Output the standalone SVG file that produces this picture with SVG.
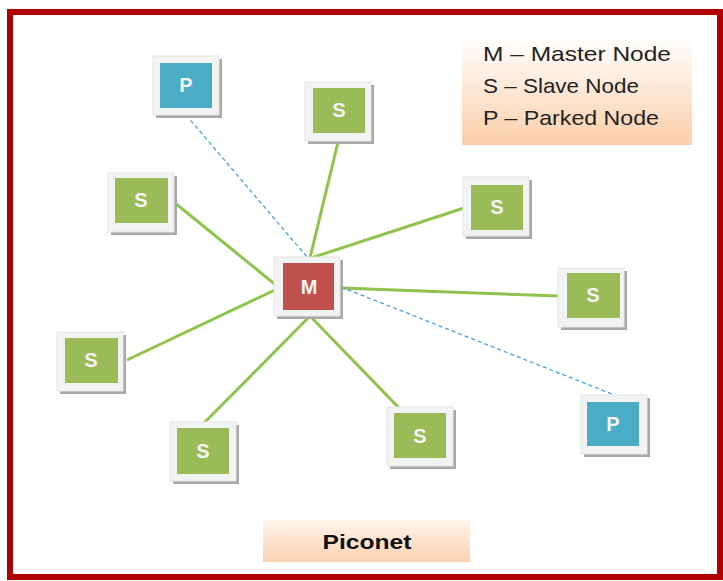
<svg xmlns="http://www.w3.org/2000/svg" width="723" height="581" viewBox="0 0 723 581">
<defs>
<linearGradient id="peach" x1="0" y1="0" x2="0" y2="1">
<stop offset="0" stop-color="#ffffff"/>
<stop offset="1" stop-color="#fbcfaa"/>
</linearGradient>
<linearGradient id="peach2" x1="0" y1="0" x2="0" y2="1">
<stop offset="0" stop-color="#fff4ec"/>
<stop offset="1" stop-color="#fbd2b0"/>
</linearGradient>
</defs>
<style>
.shadow{fill:#a8a8a8}
.outer{fill:#f3f3f3;stroke:#e4e4e4;stroke-width:1}
.s{fill:#9bbb59}
.p{fill:#4bacc6}
.m{fill:#c0504d}
.lbl{font-family:"Liberation Sans",Arial,sans-serif;font-weight:bold;font-size:20px;fill:#f4f4f4;text-anchor:middle}
.link{stroke:#8fc34c;stroke-width:3;fill:none}
.dash{stroke:#4a9fd6;stroke-width:1.3;stroke-dasharray:4 3;fill:none}
.leg{font-family:"Liberation Sans",Arial,sans-serif;font-size:21px;fill:#222}
</style>
<rect x="0" y="0" width="723" height="581" fill="#ffffff"/>
<rect x="10" y="12" width="710" height="565" fill="#ffffff" stroke="#b00000" stroke-width="6"/>

<g id="legend">
<rect x="462" y="37" width="230" height="108" fill="url(#peach)"/>
<text class="leg" x="483" y="61" textLength="188" lengthAdjust="spacingAndGlyphs">M – Master Node</text>
<text class="leg" x="483" y="93" textLength="156" lengthAdjust="spacingAndGlyphs">S – Slave Node</text>
<text class="leg" x="483" y="125" textLength="176" lengthAdjust="spacingAndGlyphs">P – Parked Node</text>
</g>

<g id="title">
<rect x="263" y="520" width="207" height="42" fill="url(#peach2)"/>
<text x="367" y="549" font-family="'Liberation Sans',Arial,sans-serif" font-weight="bold" font-size="21" fill="#111" text-anchor="middle" textLength="89" lengthAdjust="spacingAndGlyphs">Piconet</text>
</g>

<g id="connectors">
<line class="link" x1="310" y1="258" x2="338" y2="142"/>
<line class="link" x1="277" y1="286" x2="175" y2="203"/>
<line class="link" x1="311" y1="258" x2="464" y2="208"/>
<line class="link" x1="341" y1="288" x2="559" y2="296"/>
<line class="link" x1="277" y1="289" x2="127" y2="360"/>
<line class="link" x1="310" y1="316" x2="204" y2="423"/>
<line class="link" x1="310" y1="316" x2="400" y2="409"/>
<line class="dash" x1="186" y1="115" x2="307" y2="257"/>
<line class="dash" x1="341" y1="287" x2="612" y2="394"/>
</g>

<g id="node-p1">
<rect class="shadow" x="156" y="59" width="66" height="59"/>
<rect class="outer" x="153" y="56" width="66" height="59"/>
<rect class="p" x="160" y="63" width="52" height="45"/>
<text class="lbl" x="186" y="92">P</text>
</g>
<g id="node-s-top">
<rect class="shadow" x="308" y="85" width="66" height="59"/>
<rect class="outer" x="305" y="82" width="66" height="59"/>
<rect class="s" x="313" y="88" width="52" height="45"/>
<text class="lbl" x="339" y="117">S</text>
</g>
<g id="node-s-lt">
<rect class="shadow" x="111" y="176" width="66" height="59"/>
<rect class="outer" x="108" y="173" width="66" height="59"/>
<rect class="s" x="115" y="178" width="53" height="45"/>
<text class="lbl" x="141" y="207">S</text>
</g>
<g id="node-s-rt">
<rect class="shadow" x="466" y="180" width="66" height="59"/>
<rect class="outer" x="463" y="177" width="66" height="59"/>
<rect class="s" x="471" y="185" width="52" height="45"/>
<text class="lbl" x="497" y="214">S</text>
</g>
<g id="node-m">
<rect class="shadow" x="277" y="260" width="66" height="59"/>
<rect class="outer" x="274" y="257" width="66" height="59"/>
<rect class="m" x="283" y="263" width="51" height="47"/>
<text class="lbl" x="309" y="294">M</text>
</g>
<g id="node-s-r">
<rect class="shadow" x="561" y="271" width="66" height="59"/>
<rect class="outer" x="558" y="268" width="66" height="59"/>
<rect class="s" x="567" y="273" width="53" height="45"/>
<text class="lbl" x="593" y="302">S</text>
</g>
<g id="node-s-l">
<rect class="shadow" x="60" y="335" width="66" height="59"/>
<rect class="outer" x="57" y="332" width="66" height="59"/>
<rect class="s" x="65" y="338" width="53" height="45"/>
<text class="lbl" x="91" y="367">S</text>
</g>
<g id="node-p2">
<rect class="shadow" x="584" y="398" width="66" height="59"/>
<rect class="outer" x="581" y="395" width="66" height="59"/>
<rect class="p" x="587" y="402" width="52" height="44"/>
<text class="lbl" x="613" y="431">P</text>
</g>
<g id="node-s-bl">
<rect class="shadow" x="173" y="425" width="66" height="59"/>
<rect class="outer" x="170" y="422" width="66" height="59"/>
<rect class="s" x="177" y="428" width="52" height="46"/>
<text class="lbl" x="203" y="458">S</text>
</g>
<g id="node-s-br">
<rect class="shadow" x="390" y="410" width="66" height="59"/>
<rect class="outer" x="387" y="407" width="66" height="59"/>
<rect class="s" x="394" y="413" width="52" height="45"/>
<text class="lbl" x="420" y="443">S</text>
</g>
</svg>
